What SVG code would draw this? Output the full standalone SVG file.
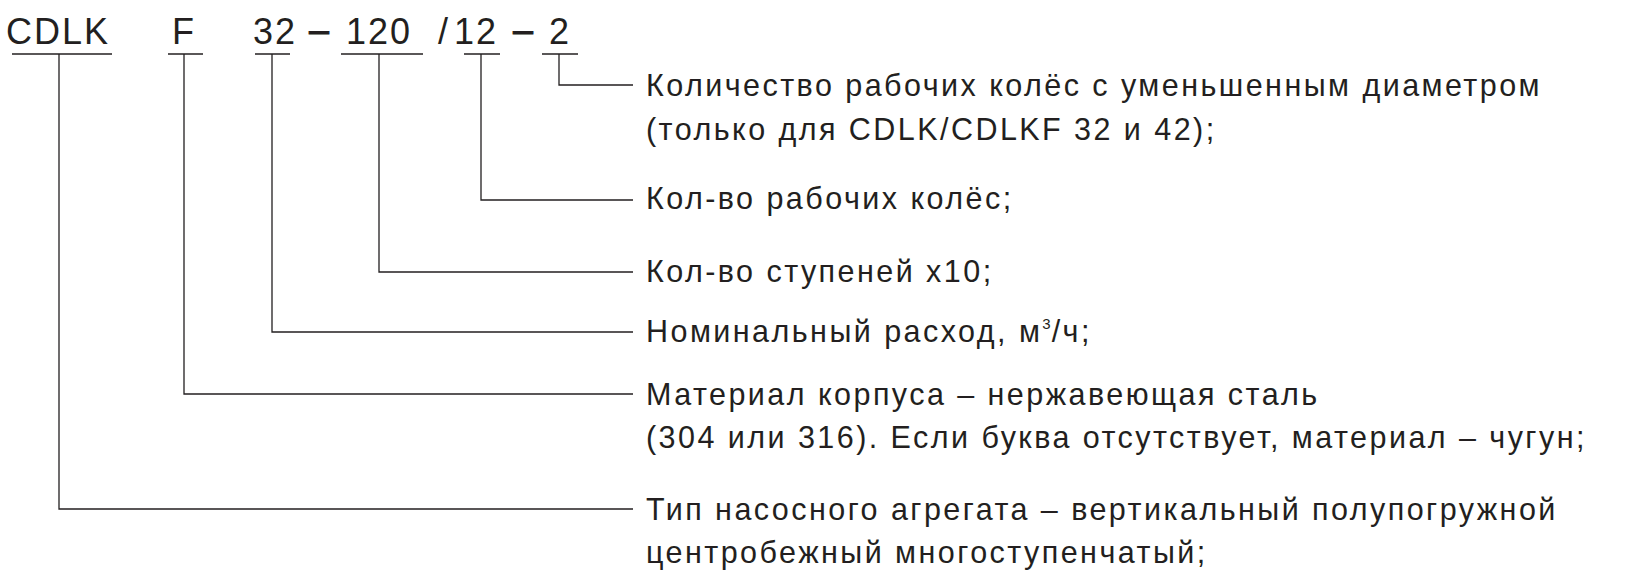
<svg xmlns="http://www.w3.org/2000/svg" width="1632" height="584" viewBox="0 0 1632 584">
<style>
.code{font-family:"Liberation Sans",Arial,sans-serif;font-size:36px;letter-spacing:2px;fill:#231f20}
.lbl{font-family:"Liberation Sans",Arial,sans-serif;font-size:30.5px;letter-spacing:2.45px;fill:#231f20}
.ln{stroke:#231f20;stroke-width:1.3;fill:none}
</style>
<rect width="1632" height="584" fill="#ffffff"/>
<g id="code">
<text class="code" x="6" y="44">CDLK</text>
<text class="code" x="172" y="44">F</text>
<text class="code" x="253" y="44">32</text>
<text class="code" x="309" y="42" stroke="#231f20" stroke-width="0.8">–</text>
<text class="code" x="346" y="44">120</text>
<text class="code" x="438" y="44">/</text>
<text class="code" x="454" y="44">12</text>
<text class="code" x="513" y="42" stroke="#231f20" stroke-width="0.8">–</text>
<text class="code" x="549" y="44">2</text>
</g>
<g id="underlines">
<line class="ln" x1="12" y1="54" x2="112" y2="54"/>
<line class="ln" x1="168" y1="54" x2="203" y2="54"/>
<line class="ln" x1="255" y1="54" x2="290" y2="54"/>
<line class="ln" x1="341" y1="54" x2="423" y2="54"/>
<line class="ln" x1="464" y1="54" x2="500" y2="54"/>
<line class="ln" x1="542" y1="54" x2="578" y2="54"/>
</g>
<g id="connectors">
<polyline class="ln" points="559,54 559,85 633,85"/>
<polyline class="ln" points="481,54 481,200 633,200"/>
<polyline class="ln" points="379,54 379,272 633,272"/>
<polyline class="ln" points="272,54 272,332 633,332"/>
<polyline class="ln" points="184,54 184,394 633,394"/>
<polyline class="ln" points="59,54 59,509 633,509"/>
</g>
<g id="label-impellers-reduced">
<text class="lbl" x="646" y="96">Количество рабочих колёс с уменьшенным диаметром</text>
<text class="lbl" x="646" y="140">(только для CDLK/CDLKF 32 и 42);</text>
</g>
<g id="label-impellers">
<text class="lbl" x="646" y="209">Кол-во рабочих колёс;</text>
</g>
<g id="label-stages">
<text class="lbl" x="646" y="282">Кол-во ступеней x10;</text>
</g>
<g id="label-flow">
<text class="lbl" x="646" y="342">Номинальный расход, м<tspan font-size="15" dy="-13" letter-spacing="1">3</tspan><tspan dy="13">/ч;</tspan></text>
</g>
<g id="label-material">
<text class="lbl" x="646" y="405">Материал корпуса – нержавеющая сталь</text>
<text class="lbl" x="646" y="448">(304 или 316). Если буква отсутствует, материал – чугун;</text>
</g>
<g id="label-type">
<text class="lbl" x="646" y="520">Тип насосного агрегата – вертикальный полупогружной</text>
<text class="lbl" x="646" y="563">центробежный многоступенчатый;</text>
</g>
</svg>
